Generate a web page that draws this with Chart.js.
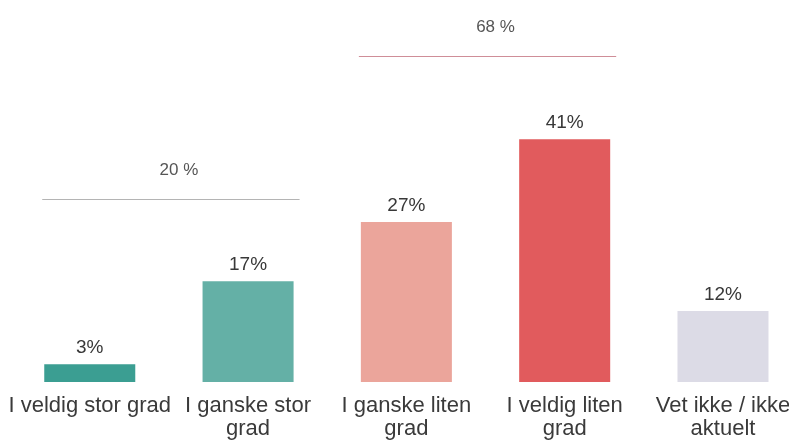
<!DOCTYPE html>
<html>
<head>
<meta charset="utf-8">
<script src="https://cdn.jsdelivr.net/npm/chart.js@4"></script>
<style>
    html, body { margin: 0; padding: 0; background: #fff; }
    #wrap { width: 789px; height: 444px; }
</style>
</head>
<body>
<div id="wrap"><canvas id="chart"></canvas></div>
<script>
// categories and values (percent)
const categories = [
    'I veldig stor grad',
    ['I ganske stor', 'grad'],
    ['I ganske liten', 'grad'],
    ['I veldig liten', 'grad'],
    ['Vet ikke / ikke', 'aktuelt']
];
const values = [3, 17, 27, 41, 12];
const barColors = ['#3b9e92', '#64b0a6', '#eba59b', '#e15b5d', '#dcdbe6'];

// summed groups drawn as a line above the bars
const groupLabels = ['20 %', '68 %'];
const groupStart = [0, 2];
const groupEnd = [1, 3];
const groupLevels = [30.9, 55];
const groupColors = ['#b4b4b4', '#cf8e98'];

// value labels on top of each bar + group lines
const labelPlugin = {
    id: 'labelPlugin',
    afterDatasetsDraw(chart) {
        const ctx = chart.ctx;
        const bars = chart.getDatasetMeta(0).data;
        const yScale = chart.scales.y;

        ctx.save();
        ctx.font = '19px "Liberation Sans", Arial, sans-serif';
        ctx.fillStyle = '#383838';
        ctx.textAlign = 'center';
        ctx.textBaseline = 'alphabetic';
        bars.forEach((bar, i) => {
            ctx.fillText(values[i] + '%', bar.x, bar.y - 11);
        });

        groupLabels.forEach((label, g) => {
            const first = bars[groupStart[g]];
            const last = bars[groupEnd[g]];
            const x1 = first.x - first.width / 2 - 2;
            const x2 = last.x + last.width / 2 + 6;
            const y = Math.round(yScale.getPixelForValue(groupLevels[g])) + 0.5;
            ctx.strokeStyle = groupColors[g];
            ctx.lineWidth = 1;
            ctx.beginPath();
            ctx.moveTo(x1, y);
            ctx.lineTo(x2, y);
            ctx.stroke();

            ctx.font = '17px "Liberation Sans", Arial, sans-serif';
            ctx.fillStyle = '#555';
            ctx.fillText(label, (x1 + x2) / 2 + 8, y - 25);
        });
        ctx.restore();
    }
};

const ctx = document.getElementById('chart').getContext('2d');
new Chart(ctx, {
    type: 'bar',
    data: {
        datasets: [{
            data: values.map((v, i) => ({ x: i, y: v })),
            backgroundColor: barColors,
            borderWidth: 0,
            barPercentage: 0.575,
            categoryPercentage: 1
        }]
    },
    options: {
        responsive: true,
        maintainAspectRatio: false,
        animation: false,
        layout: { padding: 0 },
        plugins: {
            legend: { display: false },
            tooltip: { enabled: false }
        },
        scales: {
            x: {
                type: 'linear',
                offset: false,
                min: -0.567,
                max: 4.417,
                grid: { display: false, drawTicks: false },
                border: { display: false },
                afterBuildTicks: scale => {
                    scale.ticks = categories.map((c, i) => ({ value: i }));
                },
                afterFit: scale => {
                    scale.height = 62;
                    scale.paddingLeft = 0;
                    scale.paddingRight = 0;
                },
                ticks: {
                    padding: 12,
                    maxRotation: 0,
                    autoSkip: false,
                    color: '#3a3a3a',
                    font: { family: '"Liberation Sans", Arial, sans-serif', size: 22, lineHeight: 1.05 },
                    callback: value => categories[value]
                }
            },
            y: {
                display: false,
                min: 0,
                max: 64.5
            }
        }
    },
    plugins: [labelPlugin]
});
</script>
</body>
</html>
